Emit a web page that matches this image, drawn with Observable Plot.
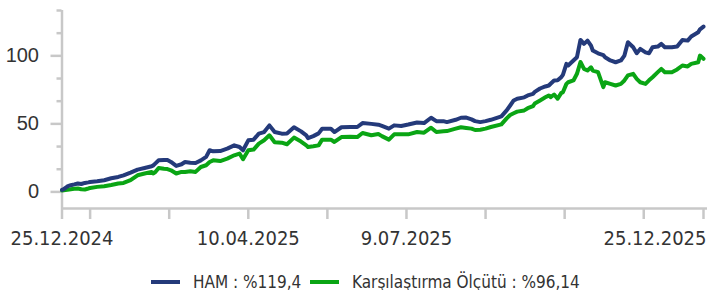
<!DOCTYPE html>
<html>
<head>
<meta charset="utf-8">
<script src="https://cdn.jsdelivr.net/npm/d3@7"></script>
<script src="https://cdn.jsdelivr.net/npm/@observablehq/plot@0.6"></script>
<style>
  html, body { margin: 0; padding: 0; background: #fff; }
  #chart svg { display: block; }
  .legend { position: relative; height: 18px; font-family: "DejaVu Sans Condensed", "Liberation Sans Narrow", sans-serif; font-stretch: condensed; font-size: 17px; line-height: 18px; color: #333; }
  .legend .item { position: absolute; top: 1px; display: flex; align-items: center; height: 17px; white-space: nowrap; }
  .legend .sw { width: 29px; height: 4px; margin-right: 13px; }
</style>
</head>
<body>
<div id="chart"></div>
<div class="legend" id="legend"></div>
<script>
// ---- data ----
const startDate = "2024-12-25";
const dayOffsets = [0,1,3,5,7,9,11,13,15,16,20,24,28,32,35,39,43,47,51,52,53,55,58,60,62,65,68,70,73,76,79,82,84,86,90,94,98,101,103,106,109,112,115,118,121,125,128,132,136,139,140,143,146,148,153,155,159,164,168,171,176,180,182,186,189,193,197,202,206,210,213,217,219,224,227,230,233,235,238,241,244,250,253,255,257,259,263,265,268,269,272,275,277,278,280,282,284,285,287,288,291,293,295,297,299,301,302,305,308,309,312,315,318,320,322,325,327,329,332,334,336,339,341,343,347,350,353,356,358,362,363,365];
const hamValues = [1.5,2.0,4.0,4.9,5.5,6.2,5.8,6.6,7.0,7.3,7.8,8.6,10.0,11.0,12.2,14.2,16.4,17.6,18.8,19.5,20.8,23.2,23.5,23.4,22.0,19.1,20.3,22.0,21.5,21.3,23.2,25.7,30.6,29.8,30.0,31.8,34.2,33.0,30.6,37.9,38.4,42.8,44.0,48.9,44.0,42.8,43.0,47.5,44.5,41.5,39.5,41.0,43.0,46.4,46.4,44.0,47.5,47.7,47.7,50.6,50.0,49.4,48.5,46.5,48.9,48.5,49.5,51.0,50.6,54.5,52.0,52.0,51.3,53.0,54.5,54.6,53.3,52.0,51.3,52.0,53.0,55.5,59.9,63.5,67.2,68.5,69.5,70.9,72.1,73.5,76.0,77.5,78.2,79.5,81.9,82.0,84.3,86.0,94.1,92.9,96.6,99.0,111.7,108.8,111.2,107.5,103.9,101.9,100.5,99.0,96.6,95.3,96.6,100.2,110.0,106.3,101.9,105.1,102.6,101.9,106.3,106.8,108.8,106.3,106.3,106.8,111.7,111.2,114.2,117.3,119.5,121.5];
const benchValues = [1.0,1.2,1.5,2.0,2.3,2.5,1.9,1.8,2.5,2.9,3.7,4.2,5.1,6.2,6.6,8.6,12.2,13.5,14.7,13.5,14.5,17.6,17.0,16.8,15.9,13.5,14.7,14.7,15.2,14.7,18.3,19.6,22.0,23.2,22.7,24.5,26.9,28.2,24.0,30.6,31.1,35.5,38.0,41.6,36.5,36.2,35.0,39.9,37.0,34.2,33.0,33.5,34.2,38.4,38.4,36.7,40.3,40.5,40.3,43.3,41.6,42.5,41.0,38.4,42.3,42.3,42.3,44.0,43.5,47.2,44.0,44.5,44.7,46.5,47.5,47.0,46.5,45.5,45.7,46.5,47.7,49.6,54.0,56.5,57.8,59.0,59.9,61.5,63.0,65.0,67.2,69.5,70.9,69.6,71.6,68.5,72.6,73.3,79.4,80.6,81.9,86.8,95.5,90.4,89.2,91.6,89.2,88.0,77.0,80.6,79.4,78.2,79.4,81.9,85.6,86.8,83.1,80.6,79.4,82.0,84.3,88.0,90.4,88.0,88.0,90.0,92.9,92.2,94.1,95.3,100.2,97.8];

const seriesNames = ["HAM", "Karşılaştırma Ölçütü"];
const legendLabels = ["HAM : %119,4", "Karşılaştırma Ölçütü : %96,14"];
const seriesColors = ["#243a7a", "#0aa514"];

const yMajorTicks = [0, 50, 100];
const yMinorTicks = [16.67, 33.33, 66.67, 83.33, 116.67, 133.33];
const yDomain = [-12.2, 133.33];
const xTickDays = [0, 16, 61, 106, 151, 196, 241, 286, 331, 365];
const xLabelDays = [0, 106, 196];
const xLastLabelDay = [365];

// ---- build ----
const t0 = new Date(startDate + "T00:00:00Z");
const toDate = d => d3.utcDay.offset(t0, d);
const rows = [];
dayOffsets.forEach((d, i) => {
  rows.push({date: toDate(d), value: benchValues[i], series: seriesNames[1]});
});
dayOffsets.forEach((d, i) => {
  rows.push({date: toDate(d), value: hamValues[i], series: seriesNames[0]});
});
const fmt = d => `${d.getUTCDate()}.${String(d.getUTCMonth() + 1).padStart(2, "0")}.${d.getUTCFullYear()}`;
const xEnd = toDate(365);

const axisColor = "#c8c8c8";
const condensed = '"DejaVu Sans Condensed", "Liberation Sans Narrow", sans-serif';

const chart = Plot.plot({
  width: 707,
  height: 272,
  marginLeft: 61.5,
  marginRight: 4,
  marginTop: 10,
  marginBottom: 64,
  style: {background: "#fff", overflow: "visible", color: "#333"},
  x: {type: "utc", domain: [t0, xEnd]},
  y: {domain: yDomain},
  color: {domain: seriesNames, range: seriesColors},
  marks: [
    Plot.ruleY([yDomain[0]], {stroke: axisColor, strokeWidth: 2.5, insetRight: -4}),
    Plot.ruleX([t0], {y1: yDomain[0], y2: yDomain[1], stroke: axisColor, strokeWidth: 2.5}),
    Plot.axisY({ticks: yMajorTicks, tickSize: 11, tickPadding: 12, stroke: axisColor, strokeWidth: 2.5, fill: "#333", fontSize: 20, fontFamily: '"Liberation Sans", sans-serif', label: null, tickFormat: d => String(d)}),
    Plot.axisY({ticks: yMinorTicks, tickSize: 5, stroke: axisColor, strokeWidth: 2.5, text: null, label: null}),
    Plot.axisX({ticks: xTickDays.map(toDate), tickSize: 11, stroke: axisColor, strokeWidth: 2.5, text: null, label: null}),
    Plot.axisX({ticks: xLabelDays.map(toDate), tickSize: 0, tickPadding: 22, tickFormat: fmt, fill: "#333", fontSize: 20, fontFamily: condensed, label: null}),
    Plot.axisX({ticks: xLastLabelDay.map(toDate), tickSize: 0, tickPadding: 22, tickFormat: fmt, fill: "#333", fontSize: 20, fontFamily: condensed, textAnchor: "end", dx: 3, label: null}),
    Plot.lineY(rows, {x: "date", y: "value", stroke: "series", z: "series", strokeWidth: 4, strokeLinejoin: "round", strokeLinecap: "round"})
  ]
});
document.getElementById("chart").appendChild(chart);

// legend
const legend = document.getElementById("legend");
const lefts = [151, 310];
legendLabels.forEach((lab, i) => {
  const item = document.createElement("div");
  item.className = "item";
  item.style.left = lefts[i] + "px";
  const sw = document.createElement("span");
  sw.className = "sw";
  sw.style.background = seriesColors[i];
  const tx = document.createElement("span");
  tx.textContent = lab;
  item.appendChild(sw);
  item.appendChild(tx);
  legend.appendChild(item);
});
</script>
</body>
</html>
